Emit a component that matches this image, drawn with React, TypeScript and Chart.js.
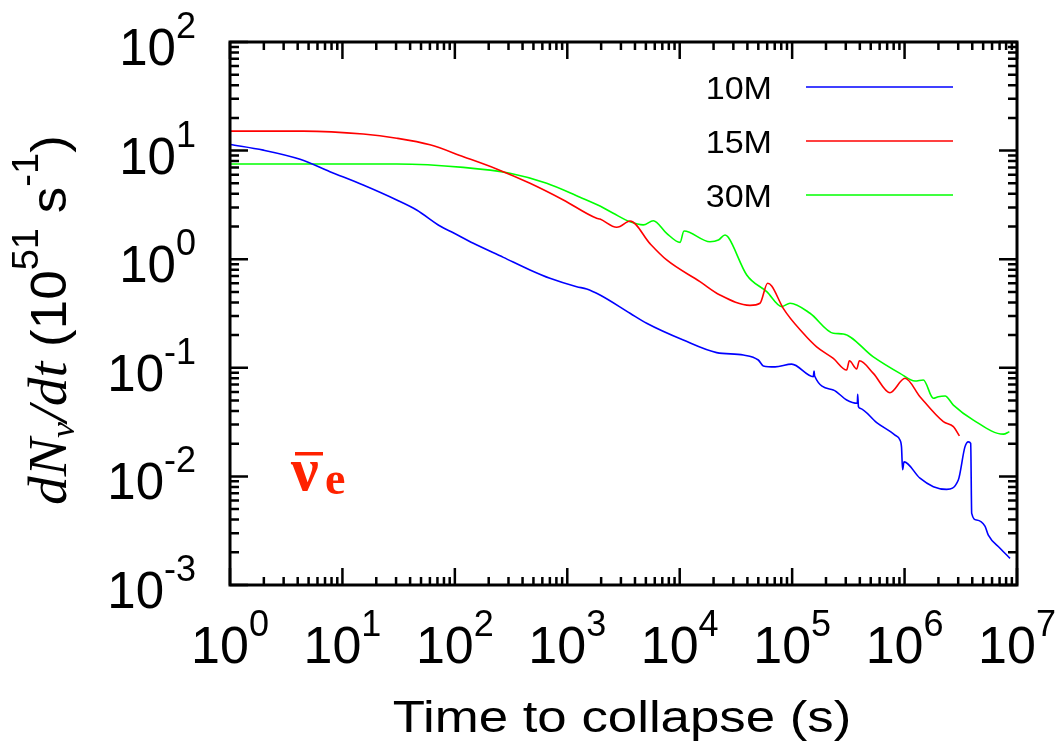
import React, { useEffect, useRef } from "react";
import { Chart, registerables } from "chart.js";

Chart.register(...registerables);

// ---- tick labels (exponents of ten) ----
const xTickExps = [0, 1, 2, 3, 4, 5, 6, 7];
const yTickExps = [-3, -2, -1, 0, 1, 2];

// ---- series names ----
const seriesNames = ["10M", "15M", "30M"];
const seriesColors = ["#0000ff", "#ff0000", "#00ff00"];

// ---- 10M ----
const t10M = [1, 1.98, 4.2, 7.74, 15.3, 30.4, 45.7, 73.8, 96.8, 146, 270, 466, 701, 1213, 1489, 1954, 3614, 5082, 10760, 21330, 36810, 50000, 55460, 70470, 99080, 154200, 156700, 158500, 232300, 305500, 380200, 382800, 389000, 401800, 564900, 822200, 909900, 939700, 960000, 988600, 1371000, 1803000, 2366000, 3006000, 3443000, 3690000, 3873000, 3954000, 4375000, 5188000, 5559000, 7063000, 8670000];
const r10M = [11.4, 10.1, 8.32, 6.4, 4.82, 3.51, 2.84, 2.02, 1.75, 1.4, 1.04, 0.796, 0.667, 0.558, 0.532, 0.468, 0.318, 0.257, 0.18, 0.138, 0.131, 0.118, 0.104, 0.102, 0.108, 0.0828, 0.0933, 0.0841, 0.0625, 0.0505, 0.0471, 0.057, 0.0437, 0.0424, 0.0313, 0.024, 0.0216, 0.0185, 0.0115, 0.0136, 0.00962, 0.00804, 0.0076, 0.00927, 0.0187, 0.0208, 0.0201, 0.00457, 0.00397, 0.00349, 0.00288, 0.00218, 0.00176];

// ---- 15M ----
const t15M = [1, 4.49, 15.3, 30.4, 60.1, 119, 235, 466, 923, 1824, 1954, 2748, 2944, 3614, 5445, 7656, 15140, 22800, 42170, 51760, 60530, 65770, 83370, 125600, 165200, 232300, 305500, 322800, 375000, 396300, 527200, 741300, 1009000, 1371000, 2213000, 2716000, 3076000];
const r15M = [15.1, 15.1, 14.2, 13.0, 11.3, 8.79, 6.78, 5.0, 3.51, 2.38, 2.34, 1.97, 2.0, 2.25, 1.39, 0.984, 0.621, 0.468, 0.376, 0.393, 0.6, 0.566, 0.353, 0.208, 0.156, 0.122, 0.0955, 0.116, 0.0975, 0.116, 0.0889, 0.059, 0.08, 0.0542, 0.0319, 0.0287, 0.0236];

// ---- 30M ----
const t30M = [1, 30.4, 119, 309, 656, 1297, 1954, 2564, 3614, 4742, 5821, 7656, 10070, 10910, 18580, 22080, 25290, 27040, 39450, 59430, 80720, 95720, 144200, 232300, 285100, 527200, 909900, 1239000, 1469000, 1803000, 1995000, 2291000, 2716000, 4093000, 7568000, 8551000];
const r30M = [7.53, 7.53, 7.01, 6.18, 5.0, 3.72, 3.09, 2.65, 2.21, 2.07, 2.26, 1.73, 1.43, 1.82, 1.45, 1.5, 1.67, 1.59, 0.716, 0.502, 0.366, 0.393, 0.318, 0.208, 0.205, 0.126, 0.0889, 0.0755, 0.0773, 0.0524, 0.0542, 0.055, 0.0454, 0.033, 0.0245, 0.0258];

const seriesTimes = [t10M, t15M, t30M];
const seriesRates = [r10M, r15M, r30M];

const SANS = '"Liberation Sans", Arial, Helvetica, sans-serif';
const SERIF = '"Liberation Serif", "Times New Roman", serif';

function drawPow(ctx: CanvasRenderingContext2D, exp: number, x: number, baseline: number, align: "center" | "right", baseSize: number) {
  const base = "10";
  const e = String(exp);
  ctx.font = `${baseSize}px ${SANS}`;
  const wb = ctx.measureText(base).width;
  ctx.font = `36px ${SANS}`;
  const we = ctx.measureText(e).width;
  const total = wb + we;
  const start = align === "center" ? x - total / 2 : x - total;
  ctx.textAlign = "left";
  ctx.textBaseline = "alphabetic";
  ctx.font = `${baseSize}px ${SANS}`;
  ctx.fillText(base, start, baseline);
  ctx.font = `36px ${SANS}`;
  ctx.fillText(e, start + wb, baseline - 27);
}

function stretchedText(ctx: CanvasRenderingContext2D, text: string, x: number, y: number, sx: number, align: "center" | "right") {
  ctx.save();
  ctx.translate(x, y);
  ctx.scale(sx, 1);
  ctx.textAlign = align;
  ctx.fillText(text, 0, 0);
  ctx.restore();
}

const decorPlugin = {
  id: "decor",
  afterDraw(chart: any) {
    const { ctx, chartArea: ca, scales } = chart;
    const xs = scales.x;
    const ys = scales.y;
    ctx.save();
    ctx.fillStyle = "#000";
    ctx.strokeStyle = "#000";
    ctx.lineCap = "butt";

    // ticks
    ctx.lineWidth = 2.5;
    ctx.beginPath();
    for (let i = 0; i < xTickExps.length; i++) {
      const d = xTickExps[i];
      const px = xs.getPixelForValue(Math.pow(10, d));
      ctx.moveTo(px, ca.bottom); ctx.lineTo(px, ca.bottom - 17);
      ctx.moveTo(px, ca.top); ctx.lineTo(px, ca.top + 17);
      if (i < xTickExps.length - 1) {
        for (let m = 2; m <= 9; m++) {
          const p = xs.getPixelForValue(m * Math.pow(10, d));
          ctx.moveTo(p, ca.bottom); ctx.lineTo(p, ca.bottom - 8);
          ctx.moveTo(p, ca.top); ctx.lineTo(p, ca.top + 8);
        }
      }
    }
    for (let i = 0; i < yTickExps.length; i++) {
      const d = yTickExps[i];
      const py = ys.getPixelForValue(Math.pow(10, d));
      ctx.moveTo(ca.left, py); ctx.lineTo(ca.left + 18, py);
      ctx.moveTo(ca.right, py); ctx.lineTo(ca.right - 18, py);
      if (i < yTickExps.length - 1) {
        for (let m = 2; m <= 9; m++) {
          const p = ys.getPixelForValue(m * Math.pow(10, d));
          ctx.moveTo(ca.left, p); ctx.lineTo(ca.left + 9, p);
          ctx.moveTo(ca.right, p); ctx.lineTo(ca.right - 9, p);
        }
      }
    }
    ctx.stroke();

    // frame
    ctx.lineWidth = 3;
    ctx.strokeRect(ca.left, ca.top, ca.right - ca.left, ca.bottom - ca.top);

    // tick labels
    for (const d of xTickExps) {
      const px = xs.getPixelForValue(Math.pow(10, d));
      drawPow(ctx, d, px, ca.bottom + 78, "center", 52);
    }
    for (const d of yTickExps) {
      const py = ys.getPixelForValue(Math.pow(10, d));
      drawPow(ctx, d, 196, py + 23, "right", 51);
    }

    // x title
    ctx.font = `44px ${SANS}`;
    stretchedText(ctx, "Time to collapse (s)", 622, 732, 1.2, "center");

    // y title (rotated)
    ctx.save();
    ctx.translate(66, 320);
    ctx.rotate(-Math.PI / 2);
    ctx.scale(1.06, 1);
    const segs: [string, string, number][] = [
      ["dN", `italic 54px ${SERIF}`, 0],
      ["\u03bd", `italic 34px ${SERIF}`, 8],
      ["/dt", `italic 54px ${SERIF}`, 0],
      [" (10", `50px ${SANS}`, 0],
      ["51", `36px ${SANS}`, -28],
      [" s", `50px ${SANS}`, 0],
      ["-1", `36px ${SANS}`, -28],
      [")", `50px ${SANS}`, 0],
    ];
    let total = 0;
    for (const [t, f] of segs) { ctx.font = f; total += ctx.measureText(t).width; }
    let cx = -total / 2;
    ctx.textAlign = "left";
    for (const [t, f, dy] of segs) {
      ctx.font = f;
      ctx.fillText(t, cx, dy);
      cx += ctx.measureText(t).width;
    }
    ctx.restore();

    // legend
    const legendY = [87, 141, 195];
    for (let i = 0; i < seriesNames.length; i++) {
      ctx.font = `31px ${SANS}`;
      ctx.fillStyle = "#000";
      stretchedText(ctx, seriesNames[i], 772, legendY[i] + 12, 1.1, "right");
      ctx.strokeStyle = seriesColors[i];
      ctx.lineWidth = 1.6;
      ctx.beginPath();
      ctx.moveTo(806, legendY[i]);
      ctx.lineTo(953, legendY[i]);
      ctx.stroke();
    }

    // nu_e bar label
    ctx.fillStyle = "#ff2200";
    ctx.textAlign = "left";
    ctx.font = `bold 62px ${SERIF}`;
    ctx.fillText("\u03bd", 291, 490);
    ctx.fillRect(295, 452, 28, 3.5);
    ctx.font = `bold 46px ${SERIF}`;
    ctx.fillText("e", 325, 494);

    ctx.restore();
  },
};

export default function App() {
  const ref = useRef<HTMLCanvasElement | null>(null);
  useEffect(() => {
    if (!ref.current) return;
    const datasets = seriesNames.map((name, i) => ({
      label: name,
      data: seriesTimes[i].map((t, j) => ({ x: t, y: seriesRates[i][j] })),
      showLine: true,
      borderColor: seriesColors[i],
      backgroundColor: seriesColors[i],
      borderWidth: 1.6,
      pointRadius: 0,
      cubicInterpolationMode: "monotone" as const,
    }));
    const chart = new Chart(ref.current, {
      type: "scatter",
      data: { datasets },
      options: {
        animation: false,
        responsive: false,
        maintainAspectRatio: false,
        layout: { padding: { left: 230, top: 42, right: 41, bottom: 165 } },
        plugins: { legend: { display: false }, tooltip: { enabled: false } },
        scales: {
          x: { type: "logarithmic", min: 1, max: 1e7, display: false },
          y: { type: "logarithmic", min: 1e-3, max: 100, display: false },
        },
      },
      plugins: [decorPlugin],
    });
    return () => chart.destroy();
  }, []);
  return (
    <div style={{ position: "absolute", left: 0, top: 0, width: 1058, height: 750, background: "#fff" }}>
      <canvas ref={ref} width={1058} height={750} />
    </div>
  );
}
